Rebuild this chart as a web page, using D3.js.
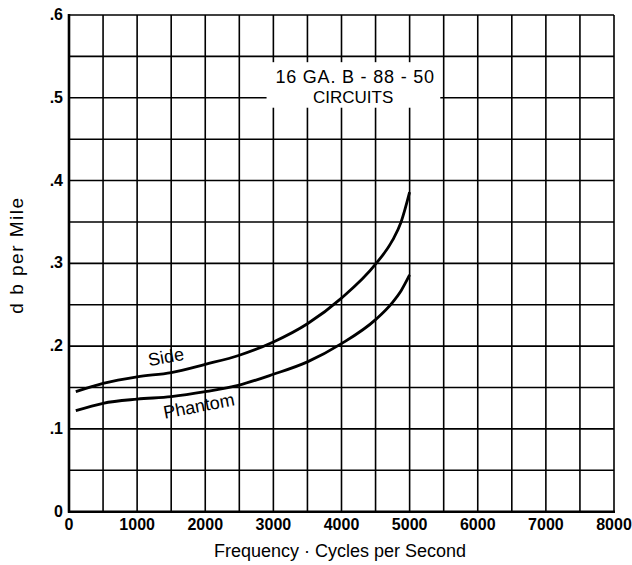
<!DOCTYPE html>
<html><head><meta charset="utf-8">
<script src="https://cdn.jsdelivr.net/npm/d3@7"></script>
<style>body{margin:0;background:#fff}svg{display:block}text{font-family:"Liberation Sans",Arial,sans-serif;fill:#000}</style>
</head><body><div id="chart"></div>
<script>
const freq = [100,500,1000,1500,2000,2500,3000,3500,4000,4500,4750,4875,5000];
const sideValues = [0.145,0.155,0.163,0.168,0.178,0.189,0.205,0.227,0.258,0.299,0.328,0.350,0.386];
const phantomValues = [0.122,0.131,0.136,0.139,0.145,0.153,0.166,0.181,0.203,0.232,0.253,0.267,0.286];
const xTicks = [0,1000,2000,3000,4000,5000,6000,7000,8000];
const yTicks = [0,0.1,0.2,0.3,0.4,0.5,0.6];
const yTickLabels = ["0",".1",".2",".3",".4",".5",".6"];
const titleLines = ["16 GA. B - 88 - 50","CIRCUITS"];

const W=632,H=565;
const svg=d3.select("#chart").append("svg").attr("width",W).attr("height",H);
const x=d3.scaleLinear().domain([0,8000]).range([69,614]);
const y=d3.scaleLinear().domain([0,0.6]).range([511.7,15]);

const grid=svg.append("g").attr("stroke","#000").attr("stroke-width",1.6);
d3.range(500,8001,500).forEach(v=>grid.append("line").attr("x1",x(v)).attr("x2",x(v)).attr("y1",y(0)).attr("y2",y(0.6)));
d3.range(0.05,0.6001,0.05).forEach(v=>grid.append("line").attr("x1",x(0)).attr("x2",x(8000)).attr("y1",y(v)).attr("y2",y(v)));

// axes
svg.append("line").attr("x1",x(0)).attr("x2",x(0)).attr("y1",y(0)+1).attr("y2",y(0.6)-1).attr("stroke","#000").attr("stroke-width",2.6);
svg.append("line").attr("x1",x(0)-1).attr("x2",x(8000)+1).attr("y1",y(0)).attr("y2",y(0)).attr("stroke","#000").attr("stroke-width",2.6);

// title box
svg.append("rect").attr("x",x(2900)).attr("y",y(0.543)).attr("width",x(5450)-x(2900)).attr("height",y(0.488)-y(0.543)).attr("fill","#fff");
svg.append("text").attr("x",x(4200)).attr("y",83).attr("text-anchor","middle").attr("font-size",18).attr("letter-spacing",0.8).text(titleLines[0]);
svg.append("text").attr("x",x(4170)).attr("y",103).attr("text-anchor","middle").attr("font-size",17).text(titleLines[1]);

const line=d3.line().x(d=>x(d[0])).y(d=>y(d[1])).curve(d3.curveMonotoneX);
svg.append("path").attr("d",line(freq.map((f,i)=>[f,sideValues[i]]))).attr("fill","none").attr("stroke","#000").attr("stroke-width",2.8);
svg.append("path").attr("d",line(freq.map((f,i)=>[f,phantomValues[i]]))).attr("fill","none").attr("stroke","#000").attr("stroke-width",2.8);

svg.append("text").attr("transform",`translate(167,363) rotate(-10)`).attr("text-anchor","middle").attr("font-size",18).text("Side");
svg.append("text").attr("transform",`translate(200,412) rotate(-11)`).attr("text-anchor","middle").attr("font-size",18).text("Phantom");

// tick labels
xTicks.forEach(v=>svg.append("text").attr("x",x(v)).attr("y",530).attr("text-anchor","middle").attr("font-size",16).attr("font-weight","bold").text(v));
yTicks.forEach((v,i)=>svg.append("text").attr("x",63).attr("y",y(v)+5).attr("text-anchor","end").attr("font-size",16).attr("font-weight","bold").text(yTickLabels[i]));

svg.append("text").attr("x",340).attr("y",557).attr("text-anchor","middle").attr("font-size",18).text("Frequency · Cycles per Second");
svg.append("text").attr("transform","translate(23,255) rotate(-90)").attr("text-anchor","middle").attr("font-size",19).attr("letter-spacing",1.5).text("d b per Mile");
</script></body></html>
